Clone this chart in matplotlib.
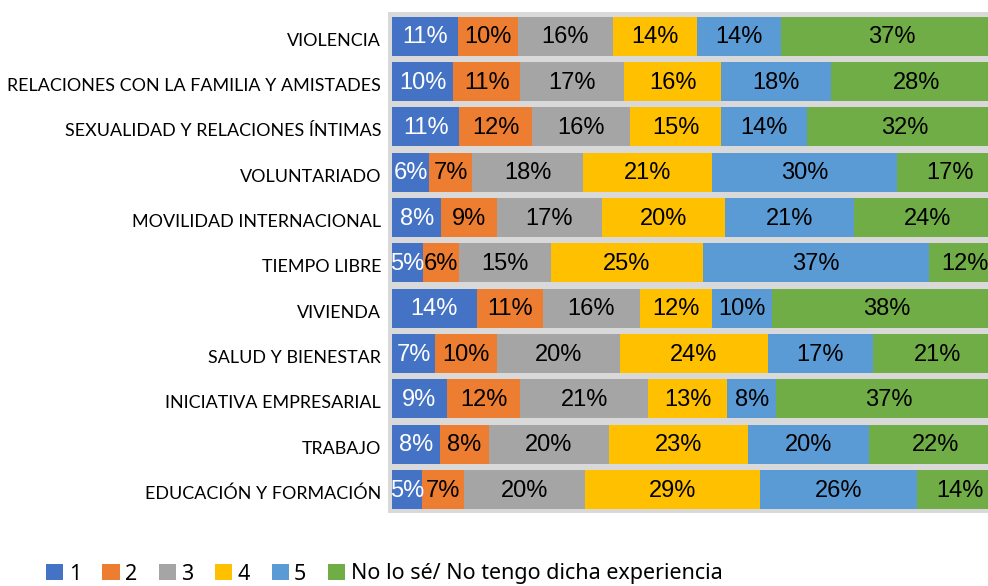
import numpy as np
import matplotlib
matplotlib.use('Agg')
import matplotlib.pyplot as plt
from matplotlib.patches import Patch

categories = [
    'VIOLENCIA',
    'RELACIONES CON LA FAMILIA Y AMISTADES',
    'SEXUALIDAD Y RELACIONES ÍNTIMAS',
    'VOLUNTARIADO',
    'MOVILIDAD INTERNACIONAL',
    'TIEMPO LIBRE',
    'VIVIENDA',
    'SALUD Y BIENESTAR',
    'INICIATIVA EMPRESARIAL',
    'TRABAJO',
    'EDUCACIÓN Y FORMACIÓN',
]
series_names = ['1', '2', '3', '4', '5', 'No lo sé/ No tengo dicha experiencia']
s1 = [11, 10, 11, 6, 8, 5, 14, 7, 9, 8, 5]
s2 = [10, 11, 12, 7, 9, 6, 11, 10, 12, 8, 7]
s3 = [16, 17, 16, 18, 17, 15, 16, 20, 21, 20, 20]
s4 = [14, 16, 15, 21, 20, 25, 12, 24, 13, 23, 29]
s5 = [14, 18, 14, 30, 21, 37, 10, 17, 8, 20, 26]
s6 = [37, 28, 32, 17, 24, 12, 38, 21, 37, 22, 14]

colors = ['#4472C4', '#ED7D31', '#A5A5A5', '#FFC000', '#5B9BD5', '#70AD47']
label_colors = ['white', 'black', 'black', 'black', 'black', 'black']

data = np.array([s1, s2, s3, s4, s5, s6], dtype=float)
shares = data / data.sum(axis=0)  # 100% stacked, like the Excel chart

W, H = 988, 586
fig = plt.figure(figsize=(W / 100, H / 100), dpi=100)
ax = fig.add_axes([388 / W, 1 - 513 / H, 618 / W, 501 / H])
ax.set_facecolor('#D9D9D9')

y = np.arange(len(categories))
left = np.zeros(len(categories))
for i, name in enumerate(series_names):
    bars = ax.barh(y, shares[i], left=left, height=0.86, color=colors[i],
                   label=name, linewidth=0)
    for j, b in enumerate(bars):
        ax.text(left[j] + shares[i][j] / 2, y[j] + 0.03, f'{int(data[i][j])}%',
                ha='center', va='center', fontsize=17,
                family='Liberation Sans', color=label_colors[i])
    left += shares[i]

ax.set_xlim(-0.0066, 1.0066)
ax.set_ylim(len(categories) - 0.48, -0.53)
# category names sit a little below the bar centres in the original
ax.set_yticks(y + 0.07)
ax.set_yticklabels(categories, family='Lato', fontsize=12.9)
ax.tick_params(axis='y', length=0, pad=5)
ax.set_xticks([])
for sp in ax.spines.values():
    sp.set_visible(False)

handles = [Patch(facecolor=c, edgecolor='none') for c in colors]
fig.legend(handles, series_names, loc='center left', bbox_to_anchor=(46 / W, 1 - 574 / H),
           ncol=6, frameon=False, prop={'family': 'Noto Sans', 'size': 15.5},
           handlelength=0.8, handleheight=0.8, handletextpad=0.25, columnspacing=1.0,
           borderaxespad=0, borderpad=0)

fig.savefig('out.png', dpi=100)
